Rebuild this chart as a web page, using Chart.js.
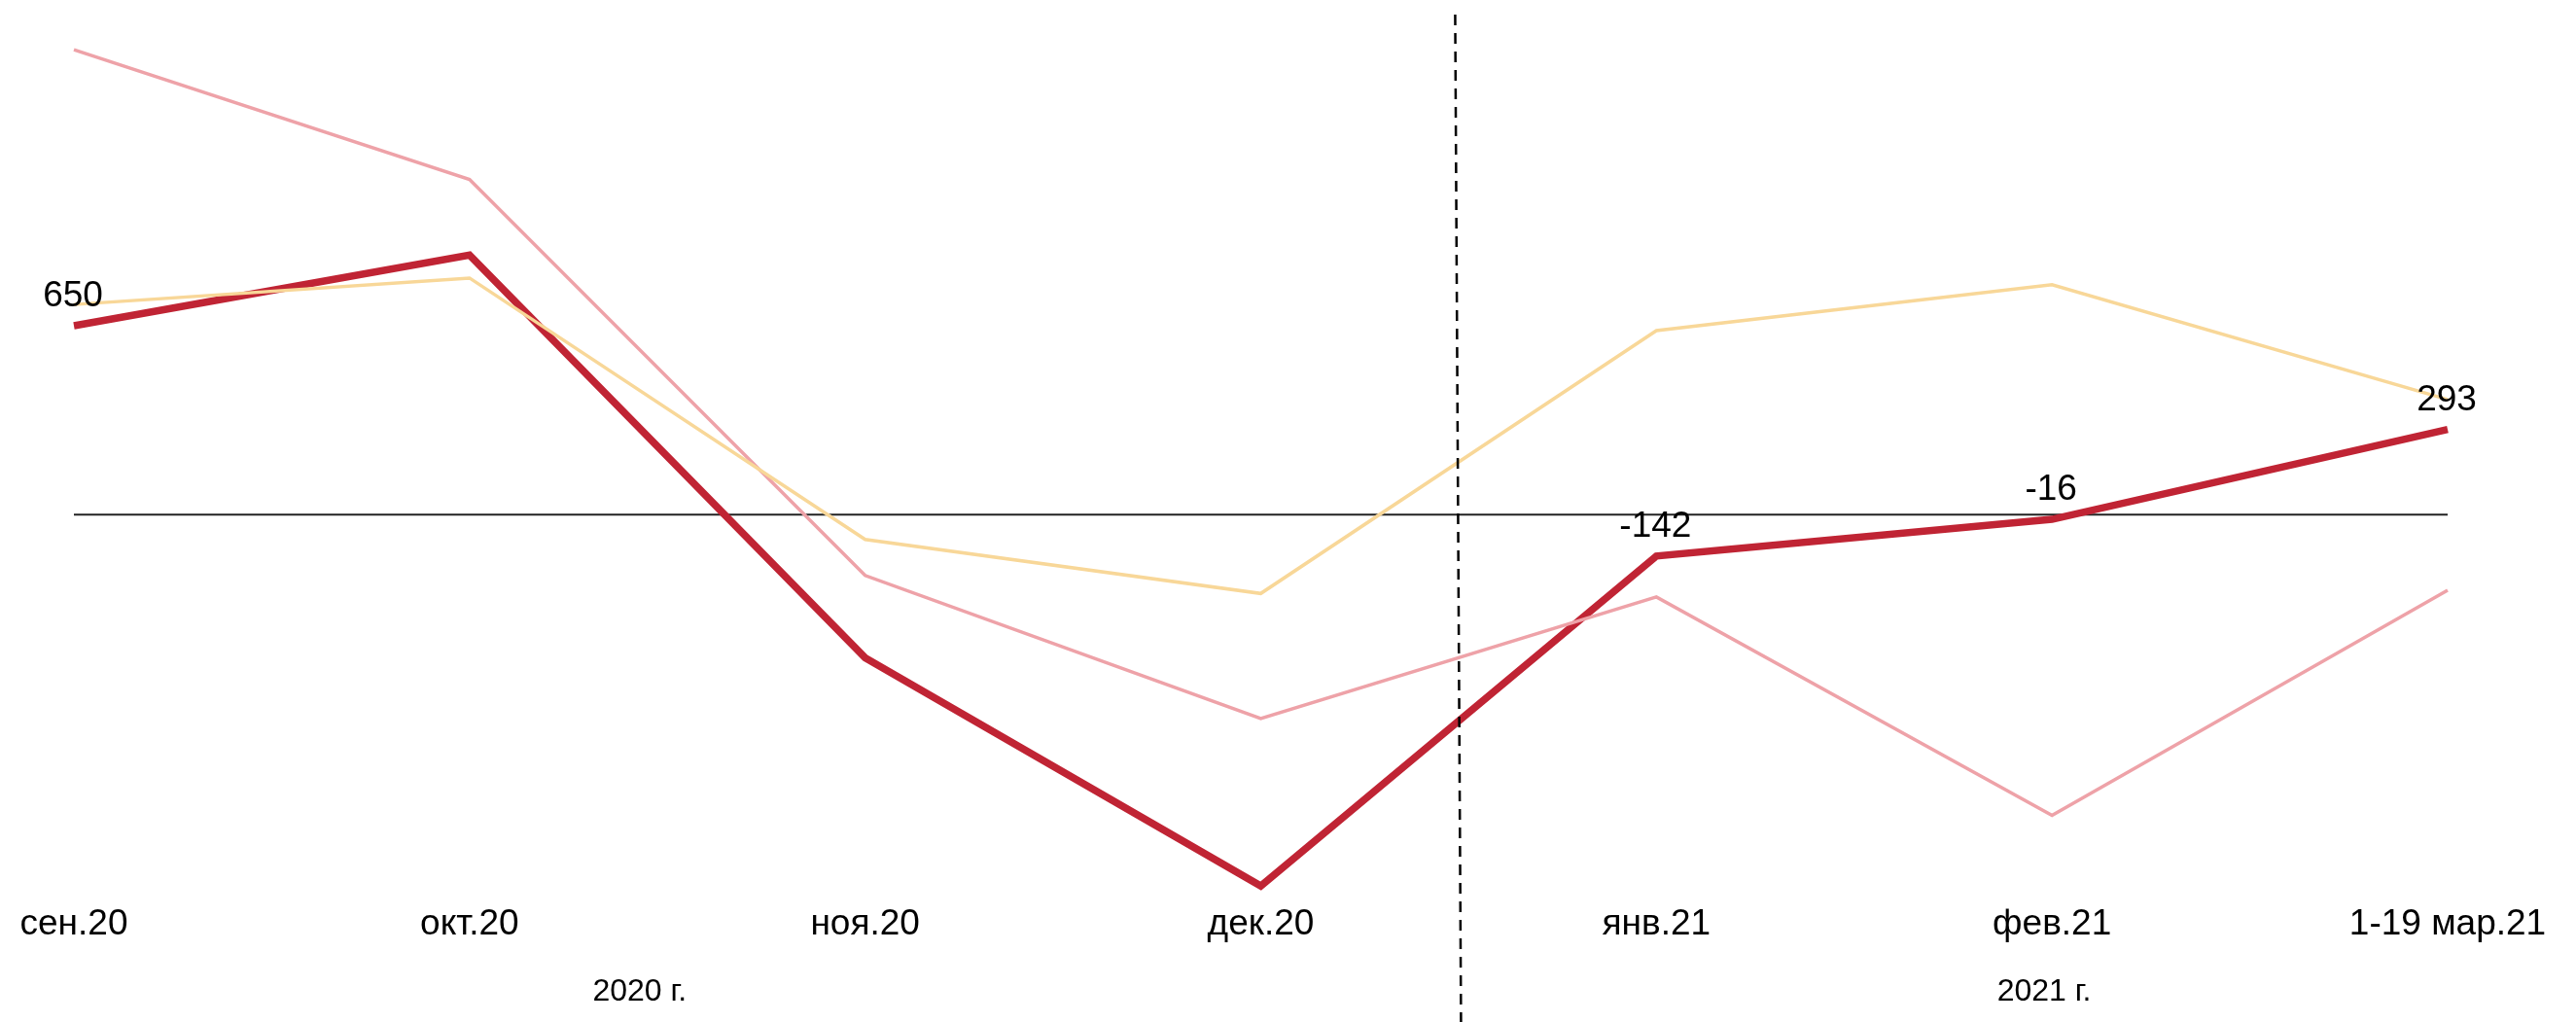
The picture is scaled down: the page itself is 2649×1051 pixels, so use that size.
<!DOCTYPE html>
<html>
<head>
<meta charset="utf-8">
<script src="https://cdn.jsdelivr.net/npm/chart.js@4"></script>
<style>
  html, body { margin: 0; padding: 0; background: #ffffff; }
  canvas { display: block; }
</style>
</head>
<body>
<canvas id="c" width="2649" height="1051"></canvas>
<script>
const categories = ['сен.20', 'окт.20', 'ноя.20', 'дек.20', 'янв.21', 'фев.21', '1-19 мар.21'];
const mainSeries = [650, 893, -492, -1277, -142, -16, 293];
const pinkSeries = [1599, 1153, -209, -701, -283, -1034, -260];
const yellowSeries = [723, 814, -85, -271, 633, 791, 396];
const zeroSeries = [0, 0, 0, 0, 0, 0, 0];
const labelledIndices = [0, 4, 5, 6];
const yearLabels = ['2020 г.', '2021 г.'];
const yearPositions = [1.43, 4.98];
const dividerPosition = 3.5;

const FONT = '"Liberation Sans", Arial, sans-serif';

const overlay = {
  id: 'overlay',
  afterDatasetsDraw(chart) {
    const ctx = chart.ctx;
    const xs = chart.scales.x;
    const ys = chart.scales.y;
    ctx.save();
    ctx.fillStyle = '#000';
    ctx.font = '37px ' + FONT;
    ctx.textAlign = 'center';
    ctx.textBaseline = 'middle';
    labelledIndices.forEach(i => {
      const px = xs.getPixelForValue(i);
      const py = ys.getPixelForValue(mainSeries[i]);
      ctx.fillText(String(mainSeries[i]), px - 1, py - 30);
    });
    categories.forEach((c, i) => {
      ctx.fillText(c, xs.getPixelForValue(i), 951);
    });
    ctx.font = '32px ' + FONT;
    yearLabels.forEach((t, i) => {
      ctx.fillText(t, xs.getPixelForValue(yearPositions[i]), 1020);
    });
    const dx = xs.getPixelForValue(dividerPosition);
    ctx.strokeStyle = '#000';
    ctx.lineWidth = 2.5;
    ctx.setLineDash([11, 8]);
    ctx.beginPath();
    ctx.moveTo(dx - 3.5, 15);
    ctx.lineTo(dx + 2.5, 1051);
    ctx.stroke();
    ctx.restore();
  }
};

new Chart(document.getElementById('c'), {
  type: 'line',
  data: {
    labels: categories,
    datasets: [
      { data: zeroSeries, borderColor: '#222', borderWidth: 2, pointRadius: 0, order: 4 },
      { data: mainSeries, borderColor: 'rgb(192,36,52)', borderWidth: 7.5, pointRadius: 0, order: 3 },
      { data: pinkSeries, borderColor: 'rgb(238,162,168)', borderWidth: 3.5, pointRadius: 0, order: 2 },
      { data: yellowSeries, borderColor: 'rgb(248,215,152)', borderWidth: 3.5, pointRadius: 0, order: 1 }
    ]
  },
  options: {
    responsive: false,
    devicePixelRatio: 1,
    animation: false,
    layout: { padding: { left: 76, right: 132, top: 21, bottom: 133 } },
    plugins: { legend: { display: false }, tooltip: { enabled: false } },
    elements: { line: { tension: 0, borderJoinStyle: 'miter', borderCapStyle: 'butt' } },
    scales: {
      x: { display: false, offset: false },
      y: { display: false, min: -1300, max: 1700 }
    }
  },
  plugins: [overlay]
});
</script>
</body>
</html>
